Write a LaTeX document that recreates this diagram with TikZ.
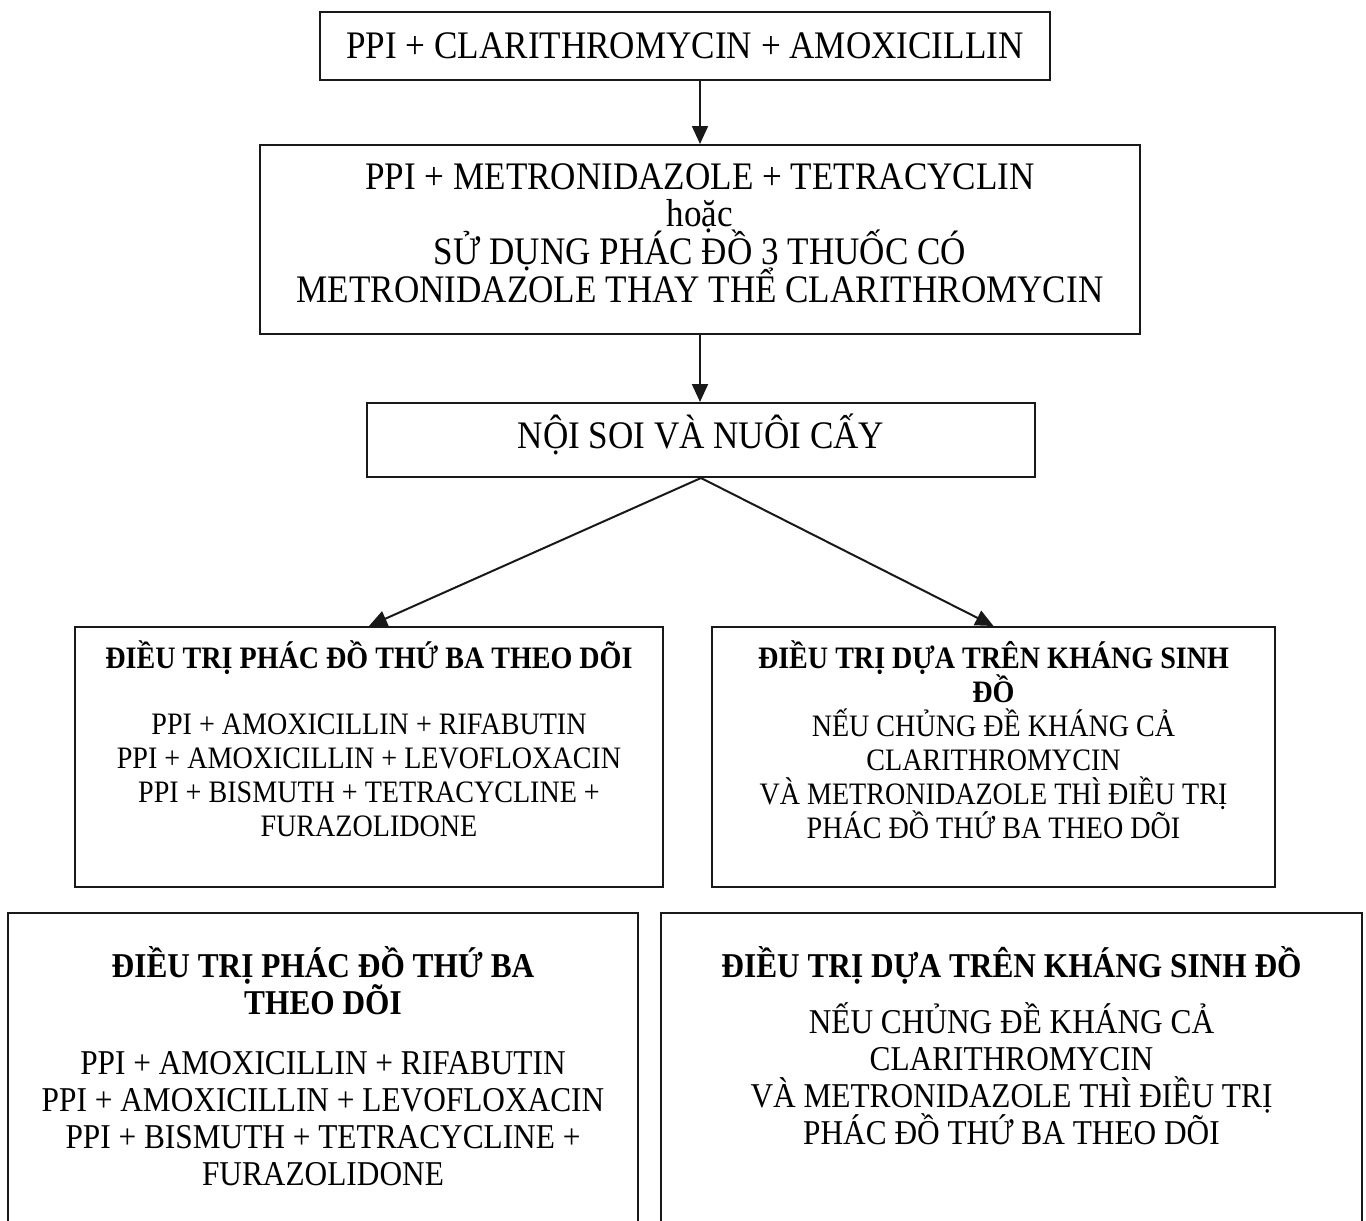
\documentclass[tikz,border=0pt]{standalone}
\usepackage{fontspec}
\setmainfont{Liberation Serif}[FakeStretch=0.9]
\usetikzlibrary{arrows.meta,positioning}
\newcommand{\bigtxt}{\fontsize{19.5}{18.8}\selectfont\lineskiplimit=-\maxdimen}
\newcommand{\midtxt}{\fontsize{17.4}{18.5}\selectfont\lineskiplimit=-\maxdimen}
\newcommand{\smtxt}{\fontsize{15.6}{17}\selectfont\lineskiplimit=-\maxdimen}
\tikzset{
  bx/.style={draw=black!90, line width=1pt, inner sep=0pt, align=center, font=\bigtxt},
  txt/.style={inner sep=0pt, align=center, anchor=north},
  arr/.style={-{Triangle[length=9pt, width=8pt]}, line width=1pt, color=black!90},
}
\begin{document}
\begin{tikzpicture}[x=0.5pt, y=-0.5pt]
    \useasboundingbox (0,0) rectangle (1366,1221);
    \clip (0,0) rectangle (1366,1221);
    \node[bx, minimum width=365pt, minimum height=34pt] (first) at (685,46) {PPI + CLARITHROMYCIN + AMOXICILLIN};
    \node[bx, minimum width=440pt, minimum height=94.5pt] (second) at (700,239.5) {};
    \node[txt, font=\bigtxt] (secondtxt) at (700,163) {PPI + METRONIDAZOLE + TETRACYCLIN\\hoặc\\SỬ DỤNG PHÁC ĐỒ 3 THUỐC CÓ\\METRONIDAZOLE THAY THỂ CLARITHROMYCIN};
    \node[bx, minimum width=334pt, minimum height=37pt, text depth=9pt] (endo) at (701,440) {NỘI SOI VÀ NUÔI CẤY};
    \node[bx, minimum width=294pt, minimum height=130pt] (thirdA) at (369,757) {};
    \node[bx, minimum width=281.5pt, minimum height=130pt] (cultA) at (993.5,757) {};
    \node[bx, minimum width=315pt, minimum height=168.5pt] (thirdB) at (323,1081.5) {};
    \node[bx, minimum width=350.5pt, minimum height=168.5pt] (cultB) at (1011.5,1081.5) {};
    \node[txt, font=\smtxt] (thirdAtxt) at (369,640) {\textbf{ĐIỀU TRỊ PHÁC ĐỒ THỨ BA THEO DÕI}\\[16pt]PPI + AMOXICILLIN + RIFABUTIN\\PPI + AMOXICILLIN + LEVOFLOXACIN\\PPI + BISMUTH + TETRACYCLINE +\\FURAZOLIDONE};
    \node[txt, font=\smtxt] (cultAtxt) at (993.5,640) {\textbf{ĐIỀU TRỊ DỰA TRÊN KHÁNG SINH}\\\textbf{ĐỒ}\\NẾU CHỦNG ĐỀ KHÁNG CẢ\\CLARITHROMYCIN\\VÀ METRONIDAZOLE THÌ ĐIỀU TRỊ\\PHÁC ĐỒ THỨ BA THEO DÕI};
    \node[txt, font=\midtxt] (thirdBtxt) at (323,946) {\textbf{ĐIỀU TRỊ PHÁC ĐỒ THỨ BA}\\\textbf{THEO DÕI}\\[11.5pt]PPI + AMOXICILLIN + RIFABUTIN\\PPI + AMOXICILLIN + LEVOFLOXACIN\\PPI + BISMUTH + TETRACYCLINE +\\FURAZOLIDONE};
    \node[txt, font=\midtxt] (cultBtxt) at (1011.5,946) {\textbf{ĐIỀU TRỊ DỰA TRÊN KHÁNG SINH ĐỒ}\\[9.5pt]NẾU CHỦNG ĐỀ KHÁNG CẢ\\CLARITHROMYCIN\\VÀ METRONIDAZOLE THÌ ĐIỀU TRỊ\\PHÁC ĐỒ THỨ BA THEO DÕI};
    \draw[arr] (first.south -| second.north) -- (second.north);
    \draw[arr] (second.south) -- (second.south |- endo.north);
    \draw[arr] (endo.south) -- (thirdA.north);
    \draw[arr] (endo.south) -- (cultA.north);
  \end{tikzpicture}
\end{document}
